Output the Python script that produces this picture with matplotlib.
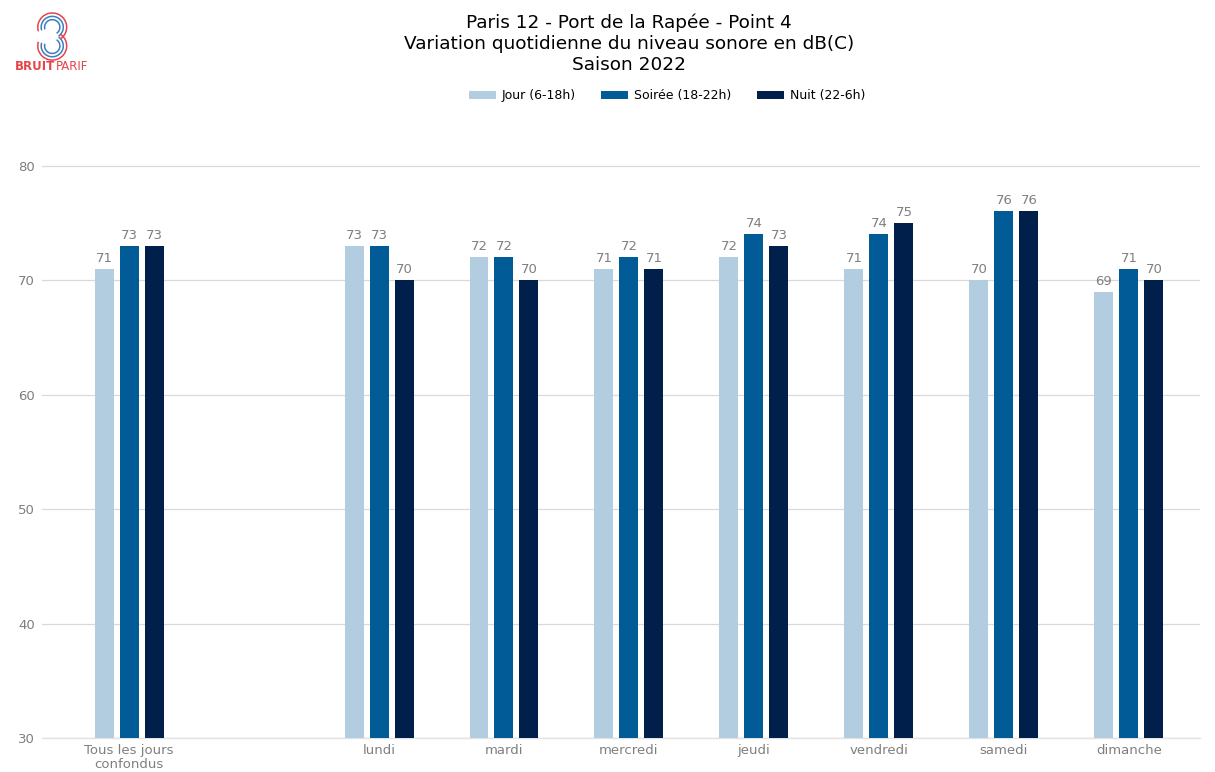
import matplotlib.pyplot as plt
import numpy as np
from matplotlib.patches import Arc

# données
categories = ['Tous les jours\nconfondus', '', 'lundi', 'mardi', 'mercredi',
              'jeudi', 'vendredi', 'samedi', 'dimanche']
jour = [71, None, 73, 72, 71, 72, 71, 70, 69]
soiree = [73, None, 73, 72, 72, 74, 74, 76, 71]
nuit = [73, None, 70, 70, 71, 73, 75, 76, 70]
series = ['Jour (6-18h)', 'Soirée (18-22h)', 'Nuit (22-6h)']
colors = ['#b3cde0', '#005b96', '#011f4b']

fig = plt.figure(figsize=(12.15, 7.72), dpi=100)
ax = fig.add_axes([0.0346, 0.044, 0.953, 0.771])

x = np.arange(len(categories))
width = 0.152
gray = '#7f7f7f'
for i, (vals, name, col) in enumerate(zip([jour, soiree, nuit], series, colors)):
    pos = [xi + (i - 1) * 0.2 for xi, v in zip(x, vals) if v is not None]
    h = [v for v in vals if v is not None]
    bars = ax.bar(pos, [v - 30 for v in h], width, bottom=30, color=col, label=name, zorder=3)
    for b, v in zip(bars, h):
        ax.text(b.get_x() + b.get_width() / 2, v + 0.35, str(v), ha='center', va='bottom',
                fontsize=9.5, color=gray)

ax.set_xlim(-0.696, 8.568)
ax.set_ylim(30, 82)
ax.set_yticks(range(30, 81, 10))
ax.set_xticks([xi for xi, c in zip(x, categories) if c])
ax.set_xticklabels([c for c in categories if c], fontsize=9.5, color=gray, linespacing=1.1)
ax.tick_params(axis='y', labelsize=9.5, labelcolor=gray, length=0, pad=5)
ax.tick_params(axis='x', length=0, pad=4)
ax.grid(axis='y', color='#d9d9d9', lw=0.9, zorder=0)
ax.axhline(30, color='#e3e3e3', lw=1, clip_on=False, zorder=1)
for s in ax.spines.values():
    s.set_visible(False)

fig.text(0.518, 0.983, 'Paris 12 - Port de la Rapée - Point 4\n'
         'Variation quotidienne du niveau sonore en dB(C)\nSaison 2022',
         ha='center', va='top', fontsize=13.3, linespacing=1.24)
fig.legend(loc='center', bbox_to_anchor=(0.549, 0.876), ncol=3, frameon=False,
           fontsize=9, handlelength=2.16, handleheight=0.6, handletextpad=0.5,
           columnspacing=2.0)

# logo Bruitparif (approximation)
lax = fig.add_axes([0.008, 0.9, 0.07, 0.09])
lax.set_xlim(0, 1)
lax.set_ylim(0, 1)
lax.axis('off')
for r, c in [(0.09, '#3a7fc1'), (0.13, '#3a7fc1'), (0.17, '#e8434b')]:
    lax.add_patch(Arc((0.5, 0.72), r * 2, r * 2.4, theta1=-60, theta2=200, color=c, lw=1.1))
    lax.add_patch(Arc((0.5, 0.45), r * 2, r * 2.4, theta1=-200, theta2=60, color=c, lw=1.1))
fig.text(0.012, 0.9145, 'BRUIT', color='#e8434b', fontsize=8.5, fontweight='bold', va='center')
fig.text(0.046, 0.9145, 'PARIF', color='#e8434b', fontsize=8.5, va='center')

fig.savefig('out.png', dpi=100)
